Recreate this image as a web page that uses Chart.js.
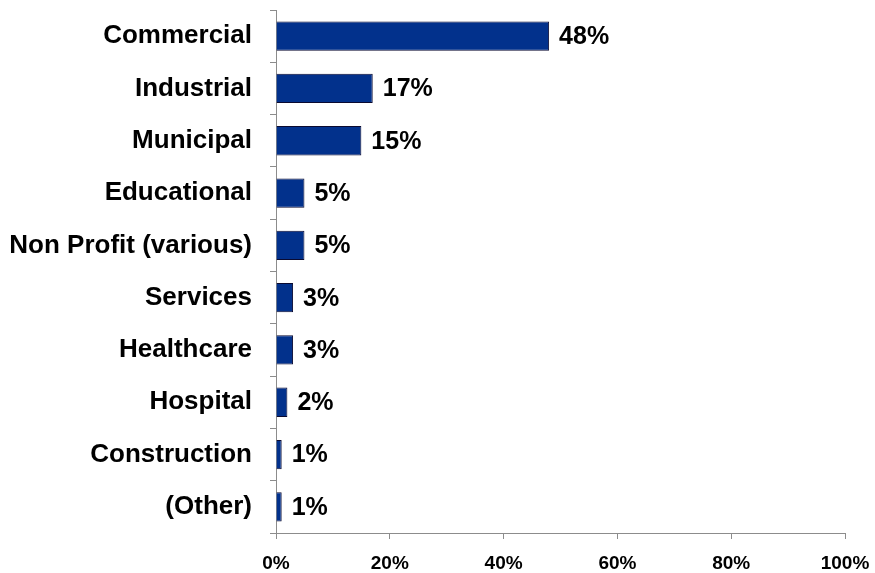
<!DOCTYPE html>
<html lang="en">
<head>
    <meta charset="UTF-8">
    <title>Customers by Sector</title>
    <script src="https://cdn.jsdelivr.net/npm/chart.js"></script>
    <style>
        html, body { margin: 0; padding: 0; background: #fff; }
        #wrap { width: 875px; height: 573px; }
    </style>
</head>
<body>
    <div id="wrap"><canvas id="barChart" width="875" height="573"></canvas></div>
    <script>
        const sectors = ['Commercial', 'Industrial', 'Municipal', 'Educational', 'Non Profit (various)',
            'Services', 'Healthcare', 'Hospital', 'Construction', '(Other)'];
        const shares = [48, 17, 15, 5, 5, 3, 3, 2, 1, 1];
        const xTicks = [0, 20, 40, 60, 80, 100];

        const fontFamily = '"Liberation Sans", Arial, sans-serif';

        // writes the percentage just past the end of each bar
        const valueLabels = {
            id: 'valueLabels',
            afterDatasetsDraw(chart) {
                const ctx = chart.ctx;
                const meta = chart.getDatasetMeta(0);
                ctx.save();
                ctx.font = 'bold 25px ' + fontFamily;
                ctx.fillStyle = '#000';
                ctx.textAlign = 'left';
                ctx.textBaseline = 'middle';
                meta.data.forEach((bar, i) => {
                    ctx.fillText(shares[i] + '%', bar.x + 10, bar.y + 1);
                });
                ctx.restore();
            }
        };

        new Chart(document.getElementById('barChart'), {
            type: 'bar',
            data: {
                labels: sectors,
                datasets: [{
                    data: shares,
                    backgroundColor: '#02318C',
                    borderColor: '#0a0a30',
                    borderWidth: 1,
                    barPercentage: 0.56,
                    categoryPercentage: 1
                }]
            },
            options: {
                indexAxis: 'y',
                responsive: false,
                animation: false,
                layout: { padding: { top: 10, right: 30, left: 0, bottom: 0 } },
                plugins: {
                    legend: { display: false },
                    tooltip: { enabled: false }
                },
                scales: {
                    x: {
                        min: 0,
                        max: 100,
                        afterBuildTicks(scale) {
                            scale.ticks = xTicks.map(v => ({ value: v }));
                        },
                        afterFit(scale) {
                            scale.height = 40;
                            scale.paddingLeft = 0;
                            scale.paddingRight = 0;
                        },
                        border: { display: true, color: '#8c8c8c', width: 1 },
                        grid: { drawOnChartArea: false, drawTicks: true, tickLength: 6, color: '#8c8c8c' },
                        ticks: {
                            padding: 13,
                            color: '#000',
                            font: { family: fontFamily, size: 19, weight: 'bold' },
                            callback: v => v + '%'
                        }
                    },
                    y: {
                        afterFit(scale) {
                            scale.width = 276;
                            scale.paddingTop = 0;
                            scale.paddingBottom = 0;
                        },
                        border: { display: true, color: '#8c8c8c', width: 1 },
                        grid: { drawOnChartArea: false, drawTicks: true, tickLength: 6, color: '#8c8c8c', offset: true },
                        ticks: {
                            padding: 18,
                            color: '#000',
                            font: { family: fontFamily, size: 26, weight: 'bold' }
                        }
                    }
                }
            },
            plugins: [valueLabels]
        });
    </script>
</body>
</html>
